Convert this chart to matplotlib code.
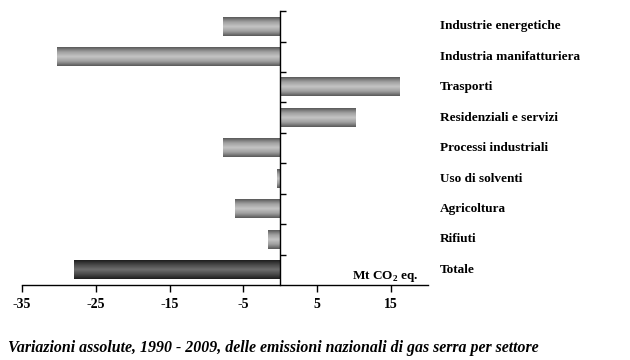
import numpy as np
from matplotlib import pyplot as plt
from matplotlib.colors import LinearSegmentedColormap

# emissioni per settore, variazione 1990-2009 (Mt CO2 eq.)
settori = [
    "Industrie energetiche",
    "Industria manifatturiera",
    "Trasporti",
    "Residenziali e servizi",
    "Processi industriali",
    "Uso di solventi",
    "Agricoltura",
    "Rifiuti",
    "Totale",
]
variazioni = [-7.8, -30.3, 16.2, 10.3, -7.7, -0.5, -6.1, -1.7, -27.9]
xticks = [-35, -25, -15, -5, 5, 15]

plt.rcParams["font.family"] = "Liberation Serif"
plt.rcParams["mathtext.fontset"] = "custom"
plt.rcParams["mathtext.rm"] = "Liberation Serif:bold"
plt.rcParams["font.size"] = 9

fig = plt.figure(figsize=(6.3, 3.6), dpi=100)
ax = fig.add_axes([0.035, 0.208, 0.644, 0.761])

# cylinder shading: dark edges, light centre
grad = np.abs(np.linspace(-1, 1, 64)).reshape(-1, 1)
cm_grey = LinearSegmentedColormap.from_list("g", ["#c4c4c4", "#a0a0a0", "#5a5a5a"])
cm_dark = LinearSegmentedColormap.from_list("d", ["#6e6e6e", "#4a4a4a", "#1e1e1e"])
h = 0.6
for i, v in enumerate(variazioni):
    cmap = cm_dark if settori[i] == "Totale" else cm_grey
    ax.imshow(grad, cmap=cmap, aspect="auto", vmin=0, vmax=1,
              extent=(min(0, v), max(0, v), i + h / 2, i - h / 2),
              interpolation="bilinear", zorder=2)

ax.set_xlim(-35, 20)
ax.set_ylim(len(settori) - 0.5, -0.5)

ax.spines["left"].set_position(("data", 0))
ax.spines["right"].set_visible(False)
ax.spines["top"].set_visible(False)
for s in ["left", "bottom"]:
    ax.spines[s].set_linewidth(1.0)
    ax.spines[s].set_zorder(3)

ax.set_yticks(np.arange(-0.5, len(settori) - 0.5))
ax.set_yticklabels([])
ax.tick_params(axis="y", direction="in", length=4, width=1)
ax.set_xticks(xticks)
ax.set_xticklabels([str(t) for t in xticks], fontweight="bold", fontsize=10)
ax.tick_params(axis="x", direction="out", length=5, width=1, pad=4)

for i, nome in enumerate(settori):
    ax.text(1.03, i, nome, transform=ax.get_yaxis_transform(),
            ha="left", va="center", fontsize=9.5, fontweight="bold")

ax.text(18.8, 8.45, r"Mt CO$_\mathrm{2}$ eq.", ha="right", va="bottom",
        fontsize=9.5, fontweight="bold")

fig.text(0.013, 0.033, "Variazioni assolute, 1990 - 2009, delle emissioni nazionali di gas serra per settore",
         ha="left", va="center", fontsize=11.4, fontweight="bold", fontstyle="italic")

fig.savefig("out.png", dpi=100)
